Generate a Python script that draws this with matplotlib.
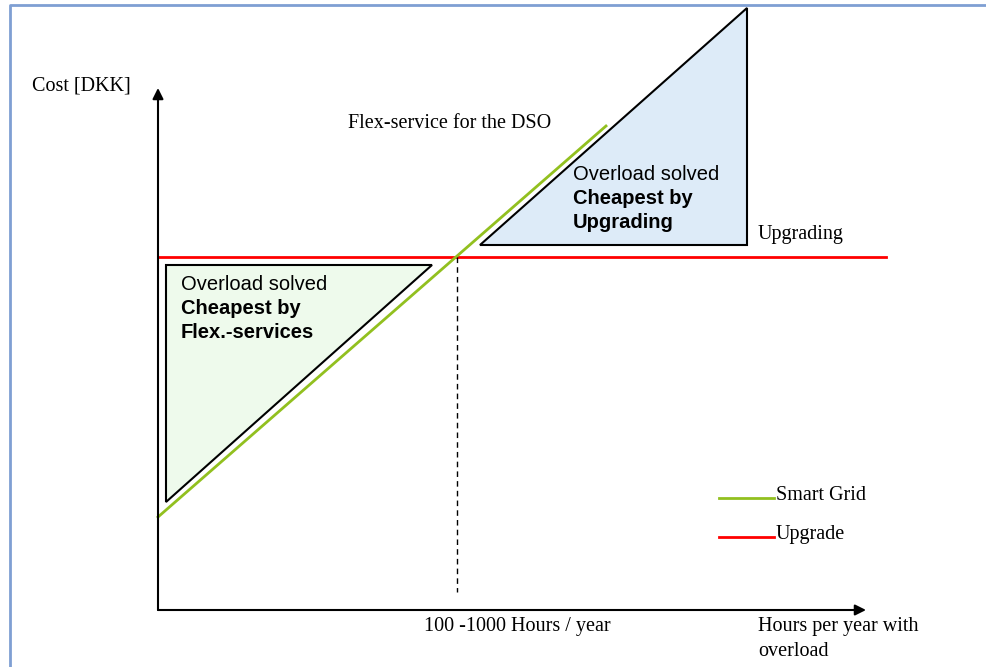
"""Cost comparison sketch: flex-services vs. grid upgrading."""
import matplotlib
matplotlib.use("Agg")
from matplotlib import pyplot as plt
from matplotlib.patches import Polygon

# canvas coordinates (pixels, y grows downwards)
W, H = 987, 667

axis_origin = (158, 610)
y_axis_top = 88
x_axis_right = 866

upgrade_x = [158, 886]
upgrade_y = [257, 257]

smart_x = [158, 606]
smart_y = [517, 126]

breakeven_x = [457, 457]
breakeven_y = [257, 592]

flex_tri = [(166, 265), (432, 265), (166, 502)]
upgrade_tri = [(480, 245), (747, 245), (747, 8)]

legend_labels = ["Smart Grid", "Upgrade"]
legend_colors = ["#92C01F", "#FF0000"]
legend_y = [498, 537]

serif = ["Liberation Serif", "DejaVu Serif"]
sans = ["Liberation Sans", "DejaVu Sans"]
fs = 14.5

fig = plt.figure(figsize=(W / 100, H / 100), dpi=100)
ax = fig.add_axes([0, 0, 1, 1])
ax.set_xlim(0, W)
ax.set_ylim(H, 0)
ax.axis("off")

# outer frame
ax.plot([10, 10, W], [H, 5, 5], color="#7F9FD3", linewidth=2, solid_capstyle="butt")

# triangles
ax.add_patch(Polygon(flex_tri, closed=True, facecolor="#EEFAEC", edgecolor="black", linewidth=1.5))
ax.add_patch(Polygon(upgrade_tri, closed=True, facecolor="#DDEBF8", edgecolor="black", linewidth=1.5))

# axes arrows
arrow = dict(arrowstyle="-|>", color="black", lw=1.5, mutation_scale=16, shrinkA=0, shrinkB=0)
ax.annotate("", xy=(axis_origin[0], y_axis_top), xytext=axis_origin, arrowprops=arrow)
ax.annotate("", xy=(x_axis_right, axis_origin[1]), xytext=axis_origin, arrowprops=arrow)

# cost lines
ax.plot(upgrade_x, upgrade_y, color=legend_colors[1], linewidth=2)
ax.plot(smart_x, smart_y, color=legend_colors[0], linewidth=2)
ax.plot(breakeven_x, breakeven_y, color="black", linewidth=1, linestyle=(0, (4, 3)))

# legend
for label, color, y in zip(legend_labels, legend_colors, legend_y):
    ax.plot([719, 774], [y, y], color=color, linewidth=2)
    ax.text(776, y - 3, label, family=serif, fontsize=fs, ha="left", va="center")

# labels
ax.text(32, 86, "Cost [DKK]", family=serif, fontsize=fs, ha="left", va="center")
ax.text(348, 123, "Flex-service for the DSO", family=serif, fontsize=fs, ha="left", va="center")
ax.text(758, 235, "Upgrading", family=serif, fontsize=fs, ha="left", va="center")
ax.text(424, 627, "100 -1000 Hours / year", family=serif, fontsize=fs, ha="left", va="center")
ax.text(758, 627, "Hours per year with", family=serif, fontsize=fs, ha="left", va="center")
ax.text(758, 651, "overload", family=serif, fontsize=fs, ha="left", va="center")

for x0, y0, last in [(181, 285, "Flex.-services"), (573, 175, "Upgrading")]:
    ax.text(x0, y0, "Overload solved", family=sans, fontsize=fs, ha="left", va="center")
    ax.text(x0, y0 + 24, "Cheapest by", family=sans, fontsize=fs, fontweight="bold", ha="left", va="center")
    ax.text(x0, y0 + 48, last, family=sans, fontsize=fs, fontweight="bold", ha="left", va="center")

fig.savefig("out.png", dpi=100)
plt.close(fig)
